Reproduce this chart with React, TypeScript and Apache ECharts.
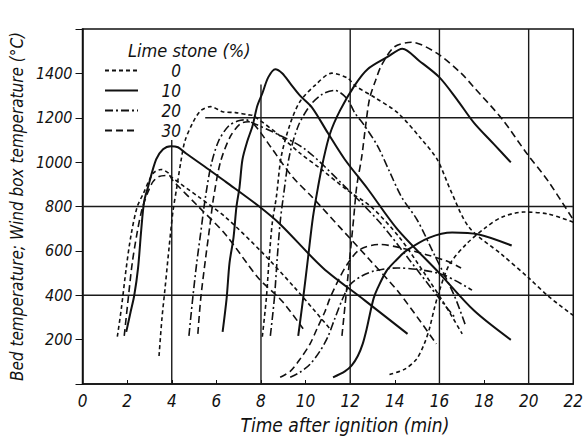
import React, { useEffect, useRef } from "react";
import * as echarts from "echarts";

// ---- axes / ticks ----
const xTicks = [0, 2, 4, 6, 8, 10, 12, 14, 16, 18, 20, 22];
const yTickLabels = [200, 400, 600, 800, 1000, 1200, 1400];
const limestone = ["0", "10", "20", "30"];

// ---- bed temperature curves: [time (min), temperature (°C)] ----
const bed0a = [[1.56,213],[1.74,340],[1.96,523],[2.18,674],[2.45,798],[2.72,857],[3.16,949],[3.52,967],[3.88,949],[3.96,935],[5.21,843],[6.41,752],[8.06,592],[9.53,432],[11.09,249]];
const bed30a = [[1.87,217],[2.05,386],[2.23,546],[2.45,683],[2.67,789],[2.94,867],[3.16,912],[3.43,935],[3.88,940],[4.05,917],[5.21,798],[6.41,674],[7.88,478],[8.95,373],[9.89,249]];
const bed10a = [[1.96,235],[2.14,318],[2.32,400],[2.49,523],[2.63,692],[2.76,821],[2.94,889],[3.3,1012],[3.61,1058],[3.96,1072],[4.28,1067],[4.63,1040],[5.66,967],[6.41,912],[7.88,803],[8.86,720],[10.78,523],[12.65,377],[14.57,226]];
const bed0b = [[3.43,126],[3.56,295],[3.7,432],[3.88,615],[4.05,775],[4.23,889],[4.41,1003],[4.59,1095],[4.94,1177],[5.3,1232],[5.75,1250],[6.28,1227],[6.86,1223],[7.44,1213],[7.66,1209],[8.86,1118],[9.75,1040],[10.65,972],[11.85,875],[12.96,797],[14.21,660],[15.32,500],[16.21,363],[17.02,226]];
const bed20b = [[4.77,217],[4.94,386],[5.12,546],[5.3,683],[5.48,821],[5.75,981],[6.1,1095],[6.55,1163],[6.99,1186],[7.31,1191],[7.62,1177],[8.64,1131],[9.98,1058],[11.63,903],[13.32,729],[14.65,560],[15.99,386],[16.66,304]];
const bed30b = [[5.17,226],[5.3,386],[5.52,569],[5.7,706],[5.88,843],[6.19,1003],[6.64,1118],[7.08,1173],[7.44,1182],[7.75,1163],[8.51,1058],[9.4,935],[10.29,843],[11.54,706],[12.87,560],[14.21,409],[15.86,181]];
const bed10b = [[6.28,235],[6.46,386],[6.59,546],[6.77,661],[6.9,798],[7.04,889],[7.17,1012],[7.39,1095],[7.62,1163],[7.84,1255],[8.06,1310],[8.33,1383],[8.64,1419],[8.95,1401],[9.31,1355],[9.75,1300],[10.29,1246],[11.0,1131],[11.76,1012],[12.78,880],[14.12,697],[15.99,500],[17.55,331],[19.2,199]];
const bed0c = [[8.06,213],[8.24,386],[8.37,569],[8.51,729],[8.69,843],[8.91,1026],[9.31,1173],[9.75,1273],[10.42,1346],[11.18,1401],[11.89,1378],[12.2,1346],[13.1,1291],[14.12,1223],[15.19,1104],[15.9,1012],[16.53,866],[17.33,706],[18.8,583],[20.0,478],[20.89,395],[22.0,309]];
const bed20c = [[8.42,217],[8.6,386],[8.73,569],[8.86,729],[9.0,843],[9.27,1026],[9.67,1163],[10.2,1255],[10.73,1305],[11.31,1323],[11.85,1287],[12.2,1223],[12.65,1163],[13.23,1072],[13.76,958],[14.3,843],[15.01,738],[15.77,583],[16.66,400],[17.19,258]];
const bed10c = [[9.67,217],[9.89,386],[10.11,569],[10.33,752],[10.56,889],[10.78,1003],[11.09,1127],[11.54,1232],[12.2,1346],[12.78,1419],[13.67,1474],[14.34,1511],[15.1,1456],[15.99,1383],[16.79,1282],[17.55,1177],[18.44,1081],[19.2,999]];
const bed30d = [[11.63,217],[11.8,386],[11.98,569],[12.16,752],[12.29,889],[12.52,1026],[12.69,1163],[12.87,1287],[13.14,1369],[13.41,1438],[13.99,1520],[14.74,1540],[15.9,1490],[16.97,1401],[17.55,1337],[18.8,1195],[19.91,1040],[20.89,912],[22.0,740]];

// ---- wind box temperature curves ----
const wind10 = [[11.23,30],[11.76,57],[12.07,84],[12.34,126],[12.56,181],[12.74,249],[12.87,309],[13.05,386],[13.23,432],[13.63,510],[14.08,560],[14.52,601],[15.55,660],[16.57,683],[17.77,674],[19.24,624]];
const wind0 = [[13.76,43],[14.43,66],[14.97,112],[15.32,181],[15.55,249],[15.77,340],[15.99,418],[16.44,537],[17.19,629],[18.08,706],[18.8,752],[19.78,775],[20.89,766],[22.0,729]];
const wind30 = [[8.86,30],[9.31,57],[9.75,112],[10.2,181],[10.51,249],[10.87,327],[11.09,386],[11.45,464],[11.85,537],[12.43,606],[13.32,629],[14.21,615],[15.41,583],[16.3,555],[16.97,523]];
const wind20 = [[9.31,30],[9.75,53],[10.2,89],[10.65,149],[11.0,213],[11.31,295],[11.63,377],[11.98,446],[12.52,487],[13.1,510],[14.12,523],[15.19,514],[16.21,491],[17.46,423]];

const curves: { name: string; data: number[][] }[] = [
  { name: "0", data: bed0a },
  { name: "10", data: bed10a },
  { name: "20", data: bed20b },
  { name: "30", data: bed30a },
  { name: "0", data: bed0b },
  { name: "30", data: bed30b },
  { name: "10", data: bed10b },
  { name: "0", data: bed0c },
  { name: "20", data: bed20c },
  { name: "10", data: bed10c },
  { name: "30", data: bed30d },
  { name: "10", data: wind10 },
  { name: "0", data: wind0 },
  { name: "30", data: wind30 },
  { name: "20", data: wind20 },
];

// ---- reference grid lines drawn on the original (partial lines) ----
const gridLines = [
  [[4, 0], [4, 1100]],
  [[8, 0], [8, 1350]],
  [[12, 0], [12, 1600]],
  [[16, 0], [16, 1600]],
  [[20, 0], [20, 1600]],
  [[0, 400], [22, 400]],
  [[0, 800], [22, 800]],
  [[5.5, 1200], [22, 1200]],
];

const dashOf: Record<string, any> = {
  "0": [4, 3],
  "10": "solid",
  "20": [8, 3, 2, 3],
  "30": [7, 4],
};

const FONT = "'Liberation Sans Narrow', 'DejaVu Sans Condensed', 'Liberation Sans', sans-serif";

export default function App() {
  const ref = useRef<HTMLDivElement>(null);
  useEffect(() => {
    if (!ref.current) return;
    const chart = echarts.init(ref.current, undefined, { renderer: "svg" });
    const series: any[] = [];
    gridLines.forEach((g) => {
      series.push({
        type: "line",
        data: g,
        symbol: "none",
        silent: true,
        lineStyle: { color: "#1a1a1a", width: 1.4 },
        z: 1,
      });
    });
    curves.forEach((c) => {
      series.push({
        type: "line",
        name: c.name,
        data: c.data,
        symbol: "none",
        showSymbol: false,
        smooth: 0.3,
        silent: true,
        itemStyle: { color: "#111" },
        lineStyle: {
          color: "#111",
          width: c.name === "10" ? 2 : 1.6,
          type: dashOf[c.name],
        },
        z: 3,
      });
    });
    chart.setOption({
      animation: false,
      backgroundColor: "#fff",
      title: {
        text: "Lime stone (%)",
        left: 128,
        top: 41,
        padding: 0,
        textStyle: { fontFamily: FONT, fontStyle: "italic", fontWeight: "normal", fontSize: 18, lineHeight: 18, color: "#111" },
      },
      legend: {
        data: limestone,
        orient: "vertical",
        left: 104,
        top: 62,
        padding: 0,
        itemWidth: 33,
        itemHeight: 10,
        itemGap: 3,
        selectedMode: false,
        itemStyle: { opacity: 0 },
        formatter: (n: string) => "{a|" + n + "}",
        textStyle: {
          rich: {
            a: { fontFamily: FONT, fontStyle: "italic", fontSize: 17, lineHeight: 16, color: "#111", width: 38, align: "right" },
          },
        },
      },
      grid: {
        left: 81,
        right: 11,
        top: 29,
        bottom: 63,
        show: true,
        borderColor: "#111",
        borderWidth: 1.5,
        backgroundColor: "transparent",
      },
      xAxis: {
        type: "value",
        min: 0,
        max: 22,
        interval: 2,
        name: "Time after ignition (min)",
        nameLocation: "middle",
        nameGap: 31,
        nameTextStyle: { fontFamily: FONT, fontStyle: "italic", fontSize: 19, color: "#111", padding: [0, 0, 0, 34] },
        axisLine: { show: true, lineStyle: { color: "#111", width: 1.5 } },
        axisTick: { show: true, inside: true, length: 4, lineStyle: { color: "#111" } },
        axisLabel: {
          fontFamily: FONT,
          fontStyle: "italic",
          fontSize: 17,
          color: "#111",
          margin: 8,
          formatter: (v: number) => (xTicks.includes(v) ? String(v) : ""),
        },
        splitLine: { show: false },
      },
      yAxis: {
        type: "value",
        min: 0,
        max: 1600,
        interval: 200,
        name: "Bed temperature; Wind box temperature (°C)",
        nameLocation: "middle",
        nameGap: 56,
        nameRotate: 90,
        nameTextStyle: { fontFamily: FONT, fontStyle: "italic", fontSize: 17, color: "#111" },
        axisLine: { show: true, lineStyle: { color: "#111", width: 1.5 } },
        axisTick: { show: true, inside: false, length: 7, lineStyle: { color: "#111" } },
        axisLabel: {
          fontFamily: FONT,
          fontStyle: "italic",
          fontSize: 16,
          color: "#111",
          margin: 10,
          formatter: (v: number) => (yTickLabels.includes(v) ? String(v) : ""),
        },
        splitLine: { show: false },
      },
      series,
    });
    return () => chart.dispose();
  }, []);
  return (
    <div
      ref={ref}
      style={{ position: "absolute", left: 0, top: 0, width: 586, height: 447, background: "#fff" }}
    />
  );
}
